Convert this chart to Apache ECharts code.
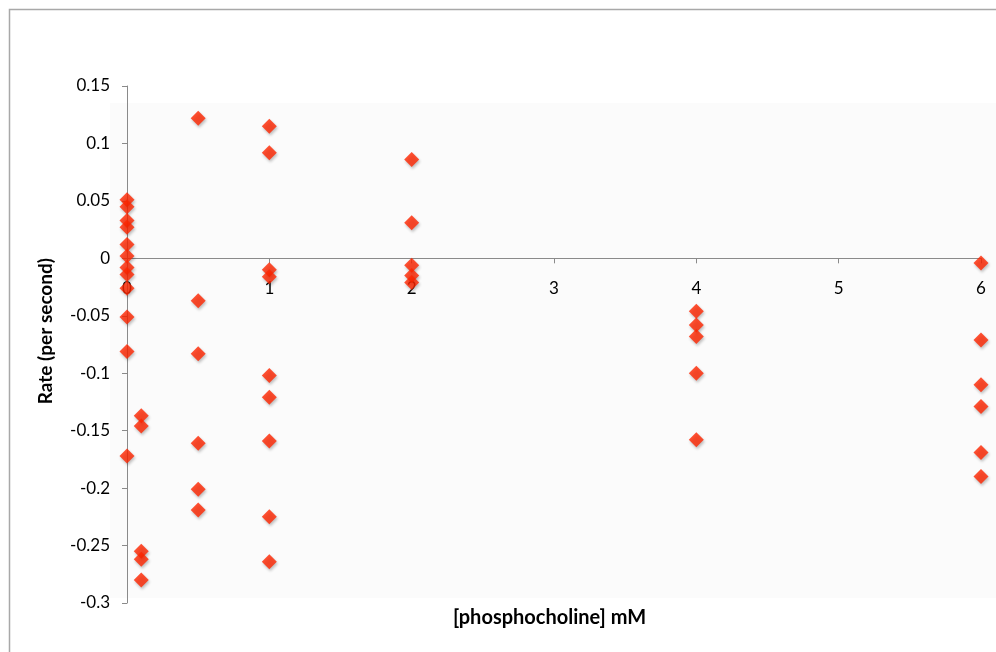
<!DOCTYPE html>
<html>
<head>
<meta charset="utf-8">
<script src="https://cdn.jsdelivr.net/npm/echarts@6/dist/echarts.min.js"></script>
<style>
  html, body { margin: 0; padding: 0; background: #fff; }
  #chart { width: 996px; height: 652px; }
</style>
</head>
<body>
<div id="chart"></div>
<script>
'use strict';

// phosphocholine concentrations (mM) and the measured rates at each
var doses = [0, 0.1, 0.5, 1, 2, 4, 6];
var rate0 = [0.051, 0.045, 0.033, 0.027, 0.012, 0.002, -0.008, -0.014, -0.026, -0.051, -0.081, -0.172];
var rate01 = [-0.137, -0.146, -0.255, -0.262, -0.280];
var rate05 = [0.122, -0.037, -0.083, -0.161, -0.201, -0.219];
var rate1 = [0.115, 0.092, -0.010, -0.016, -0.102, -0.121, -0.159, -0.225, -0.264];
var rate2 = [0.086, 0.031, -0.006, -0.015, -0.021];
var rate4 = [-0.046, -0.058, -0.068, -0.100, -0.158];
var rate6 = [-0.004, -0.071, -0.110, -0.129, -0.169, -0.190];
var rates = [rate0, rate01, rate05, rate1, rate2, rate4, rate6];

var points = [];
doses.forEach(function (d, i) {
  rates[i].forEach(function (r) { points.push([d, r]); });
});

var font = 'Lato, "Open Sans", sans-serif';
var yMin = -0.3, yMax = 0.15;
var gridTop = 86, gridBottom = 49, chartH = 652;
// x axis sits on y = 0, moved up from the bottom of the grid
var plotH = chartH - gridTop - gridBottom;
var zeroOffset = -plotH * (0 - yMin) / (yMax - yMin);

var myChart = echarts.init(document.getElementById('chart'));
var option = {
  animation: false,
  graphic: [
    { type: 'rect', z: -10, silent: true,
      shape: { x: 9.5, y: 9.5, width: 1000, height: 700 },
      style: { fill: '#fff', stroke: '#a8a8a8', lineWidth: 1.5 } },
    { type: 'rect', z: -9, silent: true,
      shape: { x: 110, y: 103, width: 886, height: 495 },
      style: { fill: '#fbfbfb' } },
    { type: 'text', left: 36, top: 258, rotation: Math.PI / 2,
      style: { text: 'Rate (per second)', font: 'bold 19px ' + font, fill: '#000' } },
    { type: 'text', left: 453, top: 608,
      style: { text: '[phosphocholine] mM', font: 'bold 20px ' + font, fill: '#000' } }
  ],
  grid: { left: 127, right: 15, top: gridTop, bottom: gridBottom, containLabel: false },
  xAxis: {
    type: 'value', min: 0, max: 6, interval: 1,
    position: 'bottom', offset: zeroOffset,
    splitLine: { show: false },
    axisLine: { onZero: false, lineStyle: { color: '#8a8a8a' } },
    axisTick: { length: 5, lineStyle: { color: '#8a8a8a' } },
    axisLabel: { margin: 22, fontSize: 17, color: '#000', fontFamily: font }
  },
  yAxis: {
    type: 'value', min: yMin, max: yMax, interval: 0.05,
    splitLine: { show: false },
    axisLine: { show: true, onZero: false, lineStyle: { color: '#8a8a8a' } },
    axisTick: { show: true, length: 5, lineStyle: { color: '#8a8a8a' } },
    axisLabel: { margin: 17, fontSize: 17, color: '#000', fontFamily: font,
      formatter: function (v) { return String(Math.round(v * 100) / 100); } }
  },
  series: [{
    type: 'scatter',
    symbol: 'diamond',
    symbolSize: [15, 15],
    data: points,
    itemStyle: {
      color: '#ff2600',
      shadowBlur: 3,
      shadowColor: 'rgba(0,0,0,0.3)',
      shadowOffsetX: 1,
      shadowOffsetY: 2
    },
    z: 5
  }]
};
myChart.setOption(option);
</script>
</body>
</html>
